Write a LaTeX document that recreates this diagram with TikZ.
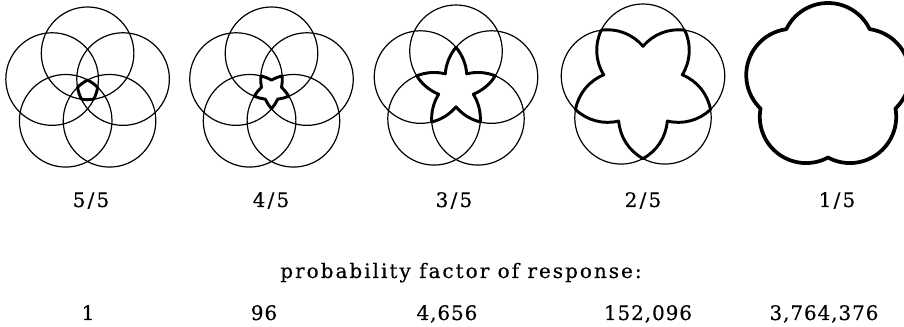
\documentclass[tikz,border=0pt]{standalone}
\usepackage{fontspec}
\setmainfont{DejaVu Serif}
\newfontfamily\capfont[LetterSpace=10,FakeBold=0.4]{DejaVu Serif}
\newfontfamily\numfont[LetterSpace=4.5,FakeBold=0.4]{DejaVu Serif}
\newfontfamily\fracfont[LetterSpace=11,FakeBold=0.4]{DejaVu Serif}
\newcommand\startpt[2]{({\Dc*cos(90+72*(#1))+\Rc*cos((#2)+72*(#1))},{\Dc*sin(90+72*(#1))+\Rc*sin((#2)+72*(#1))})}
\newcommand\piece[3]{-- ({\Dc*cos(90+72*(#1))+\Rc*cos((#2)+72*(#1))},{\Dc*sin(90+72*(#1))+\Rc*sin((#2)+72*(#1))}) arc[start angle={(#2)+72*(#1)}, end angle={(#3)+72*(#1)}, radius=\Rc]}
\begin{document}
\begin{tikzpicture}[x=0.75pt,y=0.75pt,
  thinline/.style={line width=0.9pt},
  boldline/.style={line width=2.2pt, line join=round, fill=white},
  lbl/.style={font=\numfont\fontsize{15}{18}\selectfont, anchor=base, inner sep=0pt},
  frac/.style={lbl, font=\fracfont\fontsize{15}{18}\selectfont},
  caption/.style={lbl, font=\capfont\fontsize{15}{18}\selectfont}]
\useasboundingbox (0,0) rectangle (904,327);
\pgfmathsetmacro\Dc{37.3}
\pgfmathsetmacro\Rc{46.3}
\pgfmathsetmacro\bA{acos(0.587785*\Dc/\Rc)}
\pgfmathsetmacro\bB{acos(0.951057*\Dc/\Rc)}
\pgfmathsetmacro\sA{\bA-36}      \pgfmathsetmacro\eA{216-\bA}
\pgfmathsetmacro\sB{216-\bA}     \pgfmathsetmacro\eB{252-\bB}
\pgfmathsetmacro\sBp{288+\bB}    \pgfmathsetmacro\eBp{324+\bA}
\pgfmathsetmacro\sC{252-\bB}     \pgfmathsetmacro\eC{288-\bB}
\pgfmathsetmacro\sCp{252+\bB}    \pgfmathsetmacro\eCp{288+\bB}
\pgfmathsetmacro\sD{288-\bB}     \pgfmathsetmacro\eD{324-\bA}
\pgfmathsetmacro\sDp{216+\bA}    \pgfmathsetmacro\eDp{252+\bB}
\pgfmathsetmacro\sE{324-\bA}     \pgfmathsetmacro\eE{216+\bA}
% 5/5
\begin{scope}[shift={(87.6,236.4)}]
  \foreach \i in {0,...,4} \draw[thinline] (90+72*\i:\Dc) circle[radius=\Rc];
  \filldraw[boldline] \startpt{0}{\sE} \foreach \i in {0,...,4}{\piece{\i}{\sE}{\eE}} -- cycle;
\end{scope}
% 4/5
\begin{scope}[shift={(271.5,236.4)}]
  \foreach \i in {0,...,4} \draw[thinline] (90+72*\i:\Dc) circle[radius=\Rc];
  \filldraw[boldline] \startpt{0}{\sD} \foreach \i in {0,...,4}{\piece{\i}{\sD}{\eD}\piece{\i+4}{\sDp}{\eDp}} -- cycle;
\end{scope}
% 3/5
\begin{scope}[shift={(456,238.4)}]
  \foreach \i in {0,...,4} \draw[thinline] (90+72*\i:\Dc) circle[radius=\Rc];
  \filldraw[boldline] \startpt{0}{\sC} \foreach \i in {0,...,4}{\piece{\i}{\sC}{\eC}\piece{\i+3}{\sCp}{\eCp}} -- cycle;
\end{scope}
% 2/5
\begin{scope}[shift={(643,239.4)}]
  \foreach \i in {0,...,4} \draw[thinline] (90+72*\i:\Dc) circle[radius=\Rc];
  \filldraw[boldline] \startpt{0}{\sB} \foreach \i in {0,...,4}{\piece{\i}{\sB}{\eB}\piece{\i+2}{\sBp}{\eBp}} -- cycle;
\end{scope}
% 1/5
\begin{scope}[shift={(828,240.4)}]
  \filldraw[boldline, line width=2.8pt] \startpt{0}{\sA} \foreach \i in {0,...,4}{\piece{\i}{\sA}{\eA}} -- cycle;
\end{scope}
% labels
\node[frac] (l5) at (91,120) {5/5};
\node[frac] (l4) at (271,120) {4/5};
\node[frac] (l3) at (454,120) {3/5};
\node[frac] (l2) at (643,120) {2/5};
\node[frac] (l1) at (837,120) {1/5};
\node[caption] (cap) at (461,49) {probability factor of response:};
\node[lbl] (n1) at (88,7) {1};
\node[lbl] (n2) at (264,7) {96};
\node[lbl] (n3) at (447,7) {4,656};
\node[lbl] (n4) at (648,7) {152,096};
\node[lbl] (n5) at (824,7) {3,764,376};
\end{tikzpicture}
\end{document}
